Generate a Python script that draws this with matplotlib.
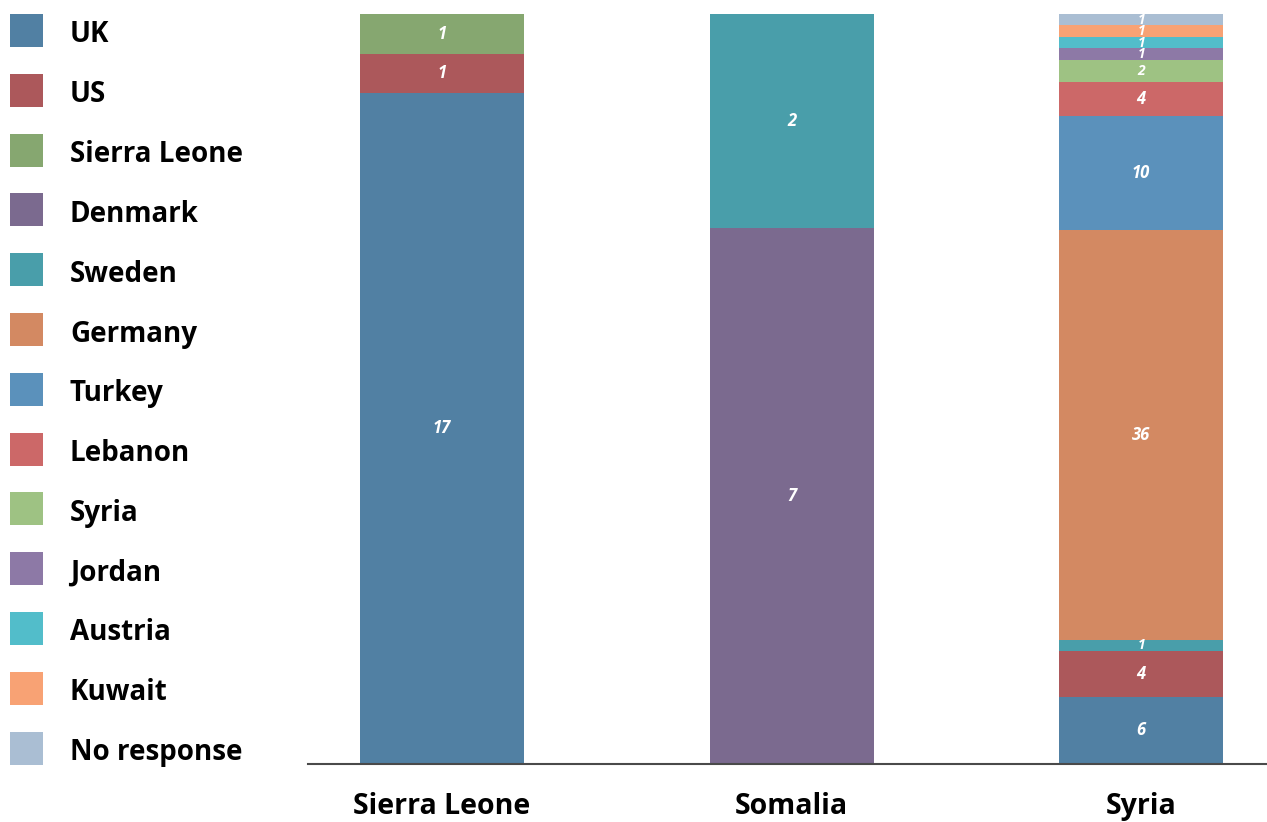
import numpy as np
import matplotlib.pyplot as plt
from matplotlib.patches import Rectangle

plt.rcParams['font.family'] = ['Open Sans', 'DejaVu Sans']

# bars and the series stacked in each one (legend order = stacking order)
bars = ['Sierra Leone', 'Somalia', 'Syria']
series = ['UK', 'US', 'Sierra Leone', 'Denmark', 'Sweden', 'Germany', 'Turkey',
          'Lebanon', 'Syria', 'Jordan', 'Austria', 'Kuwait', 'No response']
colors = ['#5180A3', '#AC585B', '#86A770', '#7B6A8F', '#499EAA', '#D38962', '#5B91BB',
          '#CC6868', '#9EC283', '#8D79A6', '#52BDCA', '#F8A274', '#AABED3']

# share of each bar (%), one entry per series
sierra_leone_pct = [89.5, 5.2, 5.3, 0, 0, 0, 0, 0, 0, 0, 0, 0, 0]
somalia_pct = [0, 0, 0, 71.4, 28.6, 0, 0, 0, 0, 0, 0, 0, 0]
syria_pct = [9.0, 6.1, 0, 0, 1.5, 54.6, 15.2, 4.5, 2.9, 1.6, 1.5, 1.6, 1.5]

# counts printed on the segments
sierra_leone_n = [17, 1, 1, 0, 0, 0, 0, 0, 0, 0, 0, 0, 0]
somalia_n = [0, 0, 0, 7, 2, 0, 0, 0, 0, 0, 0, 0, 0]
syria_n = [6, 4, 0, 0, 1, 36, 10, 4, 2, 1, 1, 1, 1]

pct = np.array([sierra_leone_pct, somalia_pct, syria_pct]).T / 100
counts = np.array([sierra_leone_n, somalia_n, syria_n]).T

W, H = 1267, 822
fig = plt.figure(figsize=(W / 100, H / 100), dpi=100)
ax = fig.add_axes([308 / W, 58 / H, 959 / W, 750 / H])

x = np.arange(len(bars))
width = 0.469
bottom = np.zeros(len(bars))
for name, col, share, n in zip(series, colors, pct, counts):
    ax.bar(x, share, width, bottom=bottom, color=col, linewidth=0)
    for i in range(len(bars)):
        if n[i] > 0:
            fs = 10 if share[i] < 0.03 else 12
            ax.text(x[i], bottom[i] + share[i] / 2, str(n[i]), ha='center',
                    va='center', color='white', fontsize=fs, fontstyle='italic',
                    fontweight='bold')
    bottom += share

ax.set_xlim(-0.383, 2.36)
ax.set_ylim(0, 1)
ax.set_yticks([])
ax.set_xticks(x)
ax.set_xticklabels(bars, fontsize=20.5, fontweight='bold')
ax.tick_params(axis='x', length=0, pad=20)
for s in ['top', 'right', 'left']:
    ax.spines[s].set_visible(False)
ax.spines['bottom'].set_color('#4a4a4a')
ax.spines['bottom'].set_linewidth(1.5)

# legend: square swatches with bold labels down the left side
for i, (name, col) in enumerate(zip(series, colors)):
    top = 14 + 59.8 * i
    fig.add_artist(Rectangle((10 / W, 1 - (top + 33) / H), 33 / W, 33 / H,
                             transform=fig.transFigure, facecolor=col, edgecolor='none'))
    fig.text(70 / W, 1 - (top + 28.5) / H, name, fontsize=20, fontweight='bold',
             va='baseline', ha='left')

fig.savefig('out.png', dpi=100)
